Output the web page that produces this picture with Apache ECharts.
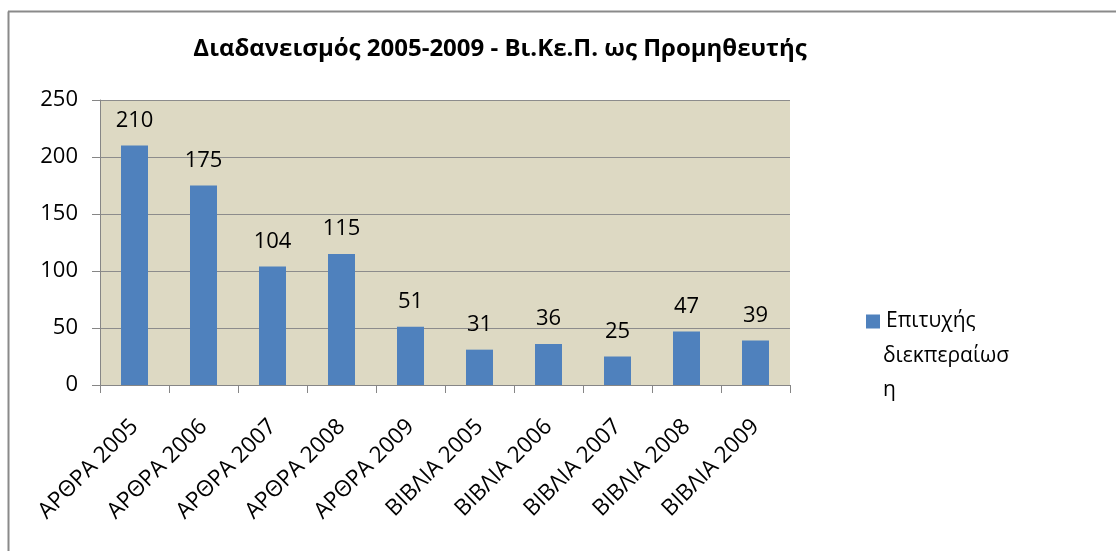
<!DOCTYPE html>
<html><head><meta charset="utf-8">
<script src="https://cdn.jsdelivr.net/npm/echarts@6/dist/echarts.min.js"></script>
<style>html,body{margin:0;padding:0;background:#fff}#c{width:1116px;height:551px}</style>
</head><body><div id="c"></div>
<script>
const titleText = 'Διαδανεισμός 2005-2009 - Βι.Κε.Π. ως Προμηθευτής';
const categories = ['ΑΡΘΡΑ 2005','ΑΡΘΡΑ 2006','ΑΡΘΡΑ 2007','ΑΡΘΡΑ 2008','ΑΡΘΡΑ 2009','ΒΙΒΛΙΑ 2005','ΒΙΒΛΙΑ 2006','ΒΙΒΛΙΑ 2007','ΒΙΒΛΙΑ 2008','ΒΙΒΛΙΑ 2009'];
const seriesName = 'Επιτυχής διεκπεραίωση';
const legendLines = ['Επιτυχής','διεκπεραίωσ','η'];
const values = [210,175,104,115,51,31,36,25,47,39];
const yTicks = [0,50,100,150,200,250];

const font = '"Open Sans", "Noto Sans", sans-serif';
const chart = echarts.init(document.getElementById('c'), null, {renderer:'canvas'});
chart.setOption({
  animation:false,
  backgroundColor:'#ffffff',
  title:{text:titleText,left:495,top:32,textAlign:'center',
    textStyle:{fontFamily:font,fontSize:24,fontWeight:'bold',color:'#000'}},
  graphic:[
    {type:'line',shape:{x1:8.5,y1:551,x2:8.5,y2:11.5},style:{stroke:'#8a8a8a',lineWidth:2}},
    {type:'line',shape:{x1:8,y1:11.5,x2:1116,y2:11.5},style:{stroke:'#8a8a8a',lineWidth:2}},
    {type:'text',left:883,top:339,style:{text:legendLines.slice(1).join('\n'),fontFamily:font,fontSize:21,lineHeight:34,fill:'#000'}}
  ],
  legend:{show:true,left:861,top:306,itemWidth:14,itemHeight:14,itemGap:10,
    icon:'rect',
    formatter:function(){return legendLines[0];},
    textStyle:{fontFamily:font,fontSize:21,color:'#000',padding:[0,0,0,1]},
    data:[seriesName]},
  grid:{left:100,right:326,top:100,bottom:166,show:true,backgroundColor:'#ddd9c3',borderWidth:0},
  xAxis:{type:'category',data:categories,
    axisLine:{lineStyle:{color:'#868686',width:1}},
    axisTick:{show:true,alignWithLabel:false,length:8,lineStyle:{color:'#868686'}},
    axisLabel:{rotate:45,margin:38,interval:0,fontFamily:font,fontSize:22.5,color:'#000'}},
  yAxis:{type:'value',min:0,max:250,interval:50,
    axisLine:{show:true,lineStyle:{color:'#868686'}},
    axisTick:{show:true,length:8,lineStyle:{color:'#868686'}},
    splitLine:{show:true,lineStyle:{color:'#8c8c8c',width:1}},
    axisLabel:{margin:22,fontFamily:font,fontSize:22,color:'#000',
      formatter:function(v){return yTicks.indexOf(v)>=0?String(v):'';}}},
  series:[{name:seriesName,type:'bar',data:values,barWidth:27,
    itemStyle:{color:'#4f81bd'},
    label:{show:true,position:'top',distance:14,fontFamily:font,fontSize:22,color:'#000'}}]
});
</script></body></html>
